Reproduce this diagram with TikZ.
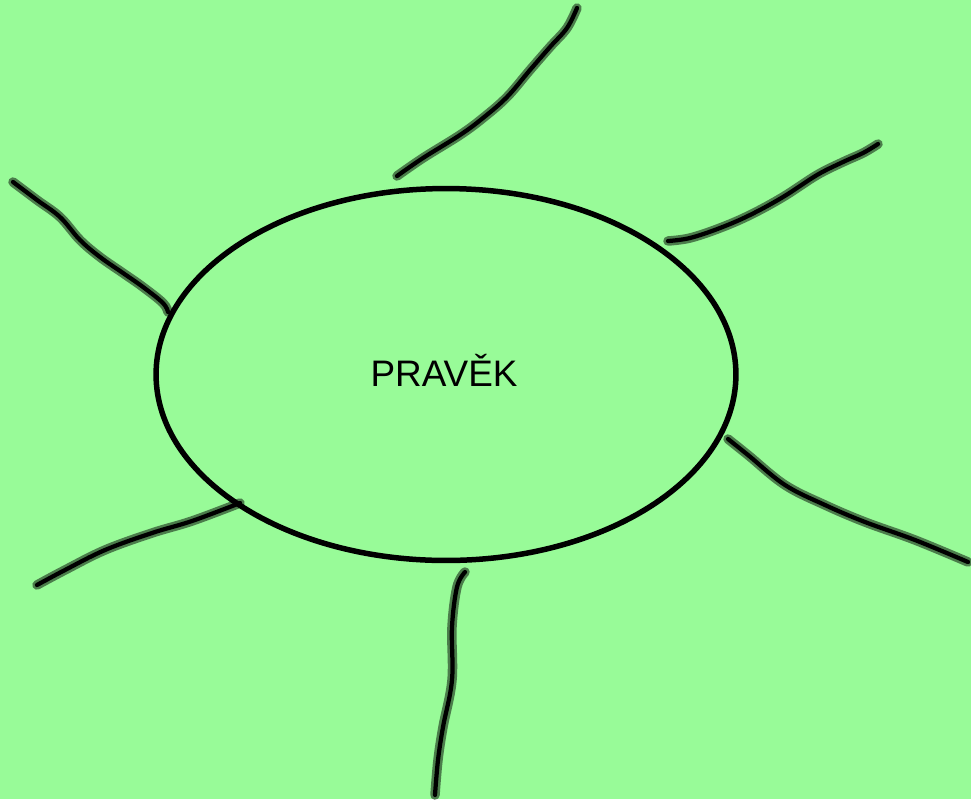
\documentclass[tikz,border=0pt]{standalone}
\usepackage{fontspec}
\setmainfont{Liberation Sans}
\usetikzlibrary{shapes.geometric}

\definecolor{bggreen}{RGB}{152,251,152}
\tikzset{
    ray/.style={line width=0.085cm, line cap=round, line join=round, black,
        preaction={draw=black, draw opacity=0.5, line width=0.19cm, line cap=round, line join=round}},
}

\begin{document}
\begin{tikzpicture}[x=0.02cm, y=-0.02cm]
    \fill[bggreen] (0,0) rectangle (971,799);
    \useasboundingbox (0,0) rectangle (971,799);

    \node[ellipse, draw, line width=0.11cm, minimum width=11.6cm, minimum height=7.44cm, inner sep=0pt] (pravek) at (446,374.5) {};
    \node[font=\fontsize{21}{24}\selectfont] (title) at (444,370) {PRAVĚK};

    % rays
    \draw[ray] plot[smooth, tension=0.6] coordinates {(397,176) (423,158) (460,135) (483,118) (507,97) (530,70) (550,47) (567,28) (577,8)};
    \draw[ray] plot[smooth, tension=0.6] coordinates {(13,182) (37,200) (60,217) (80,240) (100,257) (123,273) (143,287) (163,303) (168,312)};
    \draw[ray] plot[smooth, tension=0.6] coordinates {(668,241) (690,238) (720,228) (750,215) (783,197) (817,175) (843,162) (863,153) (878,144)};
    \draw[ray] plot[smooth, tension=0.6] coordinates {(728,439) (748,455) (785,485) (825,505) (865,522) (915,540) (968,562)};
    \draw[ray] plot[smooth, tension=0.6] coordinates {(465,572) (457,587) (452,627) (452,680) (443,727) (438,760) (435,795)};
    \draw[ray] plot[smooth, tension=0.6] coordinates {(240,503) (192,521) (152,533) (105,550) (65,570) (37,585)};
\end{tikzpicture}
\end{document}
